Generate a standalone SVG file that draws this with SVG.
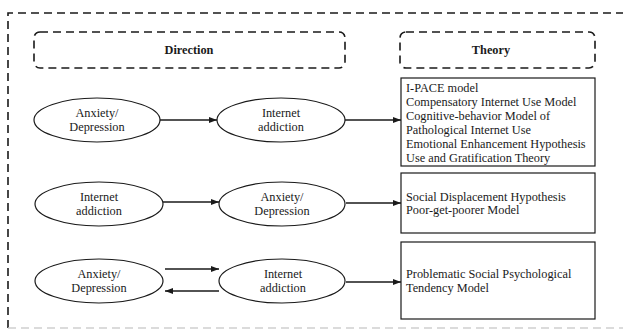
<svg xmlns="http://www.w3.org/2000/svg" width="623" height="330" viewBox="0 0 623 330">
<defs>
<style>
.t{font-family:"Liberation Serif","Times New Roman",serif;font-size:12.3px;fill:#1a1a1a}
.c{text-anchor:middle}
.b{font-weight:bold}
.dash{fill:none;stroke:#1a1a1a;stroke-width:1.6;stroke-dasharray:8 5}
.el{fill:#fff;stroke:#1a1a1a;stroke-width:1.2}
.bx{fill:#fff;stroke:#1a1a1a;stroke-width:1.2}
.ln{stroke:#1a1a1a;stroke-width:1.3;fill:none;marker-end:url(#ah)}
</style>
<marker id="ah" viewBox="0 0 8 6" refX="8" refY="3" markerWidth="8" markerHeight="6" markerUnits="userSpaceOnUse" orient="auto">
<path d="M0,0 L8,3 L0,6 Z" fill="#1a1a1a"/>
</marker>
</defs>
<rect width="623" height="330" fill="#fff"/>
<g id="frame">
<path class="dash" d="M8,328 L8,13 L630,13"/>
<path d="M8,328 L630,328" fill="none" stroke="#d0d0d0" stroke-width="1.6" stroke-dasharray="8 5"/>
</g>
<g id="header-direction">
<rect class="dash" x="34" y="32" width="311" height="36" rx="6"/>
<text class="t c b" x="189" y="54">Direction</text>
</g>
<g id="header-theory">
<rect class="dash" x="400" y="32" width="195" height="36" rx="6"/>
<text class="t c b" x="491" y="54">Theory</text>
</g>
<g id="connectors">
<line class="ln" x1="160" y1="120" x2="217" y2="120"/>
<line class="ln" x1="345" y1="120" x2="401" y2="120"/>
<line class="ln" x1="163" y1="202" x2="219" y2="202"/>
<line class="ln" x1="346" y1="203" x2="401" y2="203"/>
<line class="ln" x1="165" y1="269" x2="219" y2="269"/>
<line class="ln" x1="219" y1="291" x2="165" y2="291"/>
<line class="ln" x1="346" y1="282" x2="401" y2="282"/>
</g>
<g id="r1-anxiety">
<ellipse class="el" cx="97" cy="120" rx="63" ry="22"/>
<text class="t c" x="97" y="117">Anxiety/</text>
<text class="t c" x="97" y="131">Depression</text>
</g>
<g id="r1-internet">
<ellipse class="el" cx="281" cy="120" rx="64" ry="22"/>
<text class="t c" x="281" y="117">Internet</text>
<text class="t c" x="281" y="131">addiction</text>
</g>
<g id="r1-theory">
<rect class="bx" x="401" y="78" width="194" height="88"/>
<text class="t" x="406" y="92">I-PACE model</text>
<text class="t" x="406" y="106">Compensatory Internet Use Model</text>
<text class="t" x="406" y="120">Cognitive-behavior Model of</text>
<text class="t" x="406" y="134">Pathological Internet Use</text>
<text class="t" x="406" y="148">Emotional Enhancement Hypothesis</text>
<text class="t" x="406" y="162">Use and Gratification Theory</text>
</g>
<g id="r2-internet">
<ellipse class="el" cx="99" cy="204" rx="64" ry="22"/>
<text class="t c" x="99" y="201">Internet</text>
<text class="t c" x="99" y="215">addiction</text>
</g>
<g id="r2-anxiety">
<ellipse class="el" cx="282" cy="204" rx="63" ry="22"/>
<text class="t c" x="282" y="201">Anxiety/</text>
<text class="t c" x="282" y="215">Depression</text>
</g>
<g id="r2-theory">
<rect class="bx" x="401" y="173" width="194" height="60"/>
<text class="t" x="406" y="201">Social Displacement Hypothesis</text>
<text class="t" x="406" y="214">Poor-get-poorer Model</text>
</g>
<g id="r3-anxiety">
<ellipse class="el" cx="99" cy="281" rx="64" ry="22"/>
<text class="t c" x="99" y="278">Anxiety/</text>
<text class="t c" x="99" y="292">Depression</text>
</g>
<g id="r3-internet">
<ellipse class="el" cx="282" cy="281" rx="63" ry="22"/>
<text class="t c" x="283" y="278">Internet</text>
<text class="t c" x="283" y="292">addiction</text>
</g>
<g id="r3-theory">
<rect class="bx" x="401" y="242" width="194" height="77"/>
<text class="t" x="406" y="278">Problematic Social Psychological</text>
<text class="t" x="406" y="292">Tendency Model</text>
</g>
</svg>
